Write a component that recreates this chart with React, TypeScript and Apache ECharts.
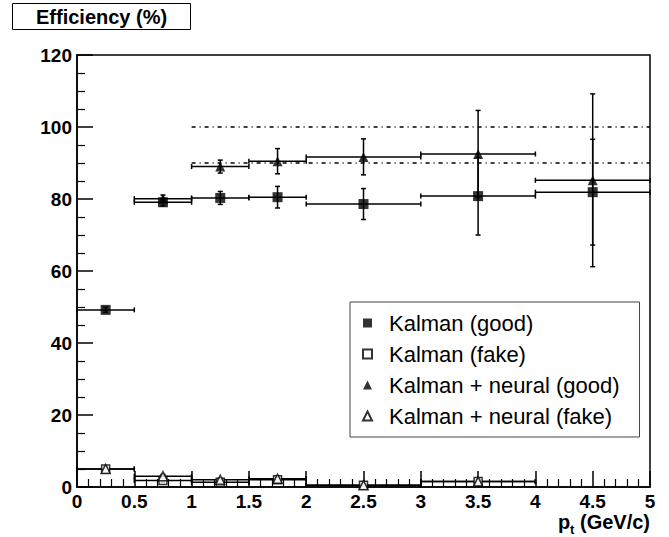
import React, { useEffect, useRef } from "react";
import * as echarts from "echarts";

// ---- data ----
const binLow = [0, 0.5, 1, 1.5, 2, 3, 4];
const binHigh = [0.5, 1, 1.5, 2, 3, 4, 5];
const binCenter = [0.25, 0.75, 1.25, 1.75, 2.5, 3.5, 4.5];

const kalmanGood = [49.2, 79.1, 80.3, 80.5, 78.6, 80.8, 81.9];
const kalmanGoodErr = [0.7, 1.0, 1.8, 3.0, 4.3, 10.8, 14.7];
const neuralGood = [null, 80.1, 89.0, 90.5, 91.7, 92.5, 85.2];
const neuralGoodErr = [null, 1.0, 1.8, 3.5, 5.0, 12.1, 24.0];
const kalmanFake = [5.0, 1.8, 1.3, 2.0, 0.5, 1.5, null];
const kalmanFakeErr = [0.6, 0.5, 0.4, 0.5, 0.3, 0.6, null];
const neuralFake = [5.0, 3.0, 2.0, 2.3, 0.5, 1.5, null];
const neuralFakeErr = [0.6, 0.5, 0.4, 0.5, 0.3, 0.6, null];

const referenceLevels = [100, 90];
const referenceFrom = 1;
const referenceTo = 5;

const xTicks = { min: 0, max: 5, interval: 0.5 };
const yTicks = { min: 0, max: 120, interval: 20 };

const seriesNames = [
  "Kalman (good)",
  "Kalman (fake)",
  "Kalman + neural (good)",
  "Kalman + neural (fake)",
];

const FONT = '"Liberation Sans", Arial, Helvetica, sans-serif';

function toPoints(vals: (number | null)[]) {
  const out: number[][] = [];
  vals.forEach((v, i) => {
    if (v !== null) out.push([binCenter[i], v]);
  });
  return out;
}

function toErrors(vals: (number | null)[], errs: (number | null)[]) {
  const out: number[][] = [];
  vals.forEach((v, i) => {
    if (v !== null) out.push([binCenter[i], v, errs[i] ?? 0, binLow[i], binHigh[i]]);
  });
  return out;
}

function errorSeries(name: string, data: number[][]) {
  return {
    type: "custom",
    name,
    data,
    encode: { x: 0, y: 1 },
    z: 3,
    silent: true,
    renderItem: (_params: any, api: any) => {
      const xc = api.value(0);
      const y = api.value(1);
      const e = api.value(2);
      const xl = api.value(3);
      const xh = api.value(4);
      const pL = api.coord([xl, y]);
      const pH = api.coord([xh, y]);
      const pT = api.coord([xc, y + e]);
      const pB = api.coord([xc, Math.max(0, y - e)]);
      const cap = 2.5;
      const style = { stroke: "#000", lineWidth: 1.5 };
      const ln = (x1: number, y1: number, x2: number, y2: number) => ({
        type: "line",
        shape: { x1, y1, x2, y2 },
        style,
      });
      return {
        type: "group",
        children: [
          ln(pL[0], pL[1], pH[0], pH[1]),
          ln(pT[0], pT[1], pB[0], pB[1]),
          ln(pL[0], pL[1] - cap, pL[0], pL[1] + cap),
          ln(pH[0], pH[1] - cap, pH[0], pH[1] + cap),
          ln(pT[0] - cap, pT[1], pT[0] + cap, pT[1]),
          ln(pB[0] - cap, pB[1], pB[0] + cap, pB[1]),
        ],
      };
    },
  };
}

export default function App() {
  const ref = useRef<HTMLDivElement>(null);

  useEffect(() => {
    if (!ref.current) return;
    const chart = echarts.init(ref.current, null, { renderer: "svg" });

    const refLines = referenceLevels.map((lv, i) => ({
      type: "line",
      name: "ref" + i,
      data: [
        [referenceFrom, lv],
        [referenceTo, lv],
      ],
      symbol: "none",
      silent: true,
      z: 2,
      lineStyle: { color: "#000", width: 1.5, type: [4, 4, 1, 4] },
    }));

    const option: any = {
      animation: false,
      backgroundColor: "#fff",
      title: {
        text: "Efficiency (%)",
        left: 12,
        top: 3,
        padding: [4, 24, 3, 24],
        borderColor: "#000",
        borderWidth: 1,
        textStyle: { fontSize: 20, fontWeight: "bold", color: "#000", fontFamily: FONT },
      },
      legend: {
        data: seriesNames,
        orient: "vertical",
        left: 350,
        top: 302,
        padding: [9, 20, 9, 12],
        itemGap: 7,
        itemWidth: 9,
        itemHeight: 9,
        borderColor: "#444",
        borderWidth: 1,
        backgroundColor: "#fff",
        selectedMode: false,
        textStyle: {
          fontSize: 22,
          color: "#000",
          fontFamily: FONT,
          lineHeight: 24,
          padding: [0, 0, 0, 12],
        },
      },
      grid: {
        left: 77,
        top: 55,
        width: 573,
        height: 432,
        show: true,
        borderColor: "#000",
        borderWidth: 1.5,
        backgroundColor: "transparent",
      },
      xAxis: {
        type: "value",
        min: xTicks.min,
        max: xTicks.max,
        interval: xTicks.interval,
        name: "{p|p}{s|t}{p| (GeV/c)}",
        nameLocation: "end",
        nameGap: 0,
        nameTextStyle: {
          align: "right",
          verticalAlign: "top",
          padding: [25, 0, 0, 0],
          rich: {
            p: { fontSize: 20, fontWeight: "bold", color: "#000", fontFamily: FONT },
            s: {
              fontSize: 13,
              fontWeight: "bold",
              color: "#000",
              fontFamily: FONT,
              verticalAlign: "bottom",
              padding: [0, 0, -4, 0],
            },
          },
        },
        axisLine: { lineStyle: { color: "#000", width: 1.5 } },
        axisTick: { inside: true, length: 16, lineStyle: { color: "#000", width: 1.5 } },
        minorTick: { show: true, splitNumber: 5, length: 8, lineStyle: { color: "#000", width: 1.2 } },
        splitLine: { show: false },
        axisLabel: {
          margin: 5,
          fontSize: 19,
          fontWeight: "bold",
          color: "#000",
          fontFamily: FONT,
        },
      },
      yAxis: {
        type: "value",
        min: yTicks.min,
        max: yTicks.max,
        interval: yTicks.interval,
        axisLine: { show: true, lineStyle: { color: "#000", width: 1.5 } },
        axisTick: { show: true, inside: true, length: 16, lineStyle: { color: "#000", width: 1.5 } },
        minorTick: { show: true, splitNumber: 4, length: 8, lineStyle: { color: "#000", width: 1.2 } },
        splitLine: { show: false },
        axisLabel: {
          margin: 5,
          fontSize: 19,
          fontWeight: "bold",
          color: "#000",
          fontFamily: FONT,
        },
      },
      series: [
        ...refLines,
        errorSeries("err-kg", toErrors(kalmanGood, kalmanGoodErr)),
        errorSeries("err-ng", toErrors(neuralGood, neuralGoodErr)),
        errorSeries("err-kf", toErrors(kalmanFake, kalmanFakeErr)),
        errorSeries("err-nf", toErrors(neuralFake, neuralFakeErr)),
        {
          type: "scatter",
          name: seriesNames[0],
          data: toPoints(kalmanGood),
          symbol: "rect",
          symbolSize: 10,
          z: 5,
          itemStyle: { color: "#000" },
        },
        {
          type: "scatter",
          name: seriesNames[1],
          data: toPoints(kalmanFake),
          symbol: "rect",
          symbolSize: 8,
          z: 5,
          itemStyle: { color: "#fff", borderColor: "#000", borderWidth: 1.5 },
        },
        {
          type: "scatter",
          name: seriesNames[2],
          data: toPoints(neuralGood),
          symbol: "triangle",
          symbolSize: 10,
          z: 6,
          itemStyle: { color: "#000" },
        },
        {
          type: "scatter",
          name: seriesNames[3],
          data: toPoints(neuralFake),
          symbol: "triangle",
          symbolSize: 9,
          z: 6,
          itemStyle: { color: "#fff", borderColor: "#000", borderWidth: 1.5 },
        },
      ],
    };

    chart.setOption(option);
    return () => chart.dispose();
  }, []);

  return (
    <div
      ref={ref}
      style={{ position: "fixed", left: 0, top: 0, width: 669, height: 537, background: "#fff" }}
    />
  );
}
